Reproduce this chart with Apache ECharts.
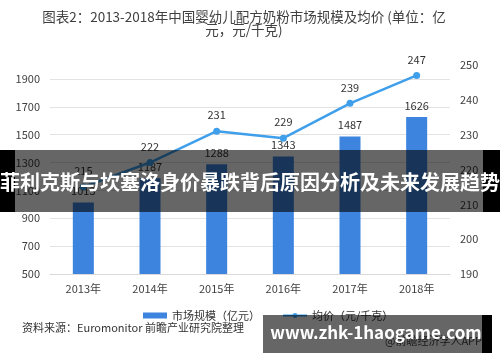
<!DOCTYPE html>
<html>
<head>
<meta charset="utf-8">
<script src="https://cdn.jsdelivr.net/npm/echarts@6/dist/echarts.min.js"></script>
<style>html,body{margin:0;padding:0;background:#fff}#c{width:500px;height:362px}</style>
</head>
<body>
<div id="c"></div>
<script>
const categories = ['2013年','2014年','2015年','2016年','2017年','2018年'];
const marketSize = [1013, 1187, 1288, 1343, 1487, 1626];
const avgPrice = [215, 222, 231, 229, 239, 247];
const leftTicks = {min: 500, max: 2000, interval: 200};
const rightTicks = {min: 190, max: 250, interval: 10};
const titleText = '图表2：2013-2018年中国婴幼儿配方奶粉市场规模及均价 (单位：亿\n元，元/千克)';
const sourceText = '资料来源：Euromonitor 前瞻产业研究院整理';
const bannerText = '菲利克斯与坎塞洛身价暴跌背后原因分析及未来发展趋势';
const siteText = 'www.zhk-1haogame.com';
const appText = '@前瞻经济学人APP';

const font = '"Noto Sans CJK SC", "Noto Sans", sans-serif';
const chart = echarts.init(document.getElementById('c'));
chart.setOption({
  animation: false,
  textStyle: {fontFamily: font},
  grid: {left: 50, right: 50, top: 65, bottom: 88},
  legend: {
    left: 138, top: 305, itemGap: 22, itemWidth: 24, itemHeight: 6,
    textStyle: {fontSize: 11, color: '#333', fontFamily: font},
    data: [
      {name: '市场规模（亿元）', icon: 'rect'},
      {name: '均价（元/千克）'}
    ]
  },
  xAxis: {
    type: 'category', data: categories,
    axisLine: {lineStyle: {color: '#d9d9d9'}},
    axisTick: {show: false},
    axisLabel: {color: '#404040', fontSize: 11, margin: 9}
  },
  yAxis: [
    {
      type: 'value', min: leftTicks.min, max: leftTicks.max, interval: leftTicks.interval,
      axisLine: {show: false}, axisTick: {show: false},
      axisLabel: {color: '#404040', fontSize: 11, margin: 10, showMaxLabel: false, formatter: v => String(v)},
      splitLine: {lineStyle: {color: '#e3e3e3'}, showMaxLine: false}
    },
    {
      type: 'value', min: rightTicks.min, max: rightTicks.max, interval: rightTicks.interval,
      axisLine: {show: false}, axisTick: {show: false},
      axisLabel: {color: '#404040', fontSize: 11, margin: 10},
      splitLine: {show: false}
    }
  ],
  series: [
    {
      name: '市场规模（亿元）', type: 'bar', data: marketSize, yAxisIndex: 0,
      barWidth: 21,
      itemStyle: {color: '#3d84df'},
      label: {show: true, position: 'top', distance: 6, color: '#333', fontSize: 11}
    },
    {
      name: '均价（元/千克）', type: 'line', data: avgPrice, yAxisIndex: 1,
      symbol: 'circle', symbolSize: 7,
      lineStyle: {color: '#3f9fea', width: 2.5},
      itemStyle: {color: '#3f9fea'},
      label: {show: true, position: 'top', distance: 7, color: '#333', fontSize: 11}
    }
  ],
  graphic: [
    {type: 'text', x: 244, y: 10, z: 10, style: {text: titleText, fill: '#404040', font: '13.5px ' + font, align: 'center', verticalAlign: 'top', lineHeight: 13}},
    {type: 'text', x: 22, y: 328, z: 10, style: {text: sourceText, fill: '#333', font: '11px ' + font, verticalAlign: 'middle'}},
    {type: 'text', x: 482, y: 341, z: 10, style: {text: appText, fill: '#444', font: '11px ' + font, align: 'right', verticalAlign: 'middle'}},
    {type: 'rect', z: 1000, shape: {x: 0, y: 150, width: 15, height: 62}, style: {fill: '#000'}},
    {type: 'rect', z: 1000, shape: {x: 483, y: 150, width: 17, height: 62}, style: {fill: '#000'}},
    {type: 'rect', z: 1000, shape: {x: 15, y: 150, width: 468, height: 62}, style: {fill: 'rgba(0,0,0,0.6)'}},
    {type: 'text', z: 1001, x: 250, y: 182, style: {text: bannerText, fill: '#fff', font: 'bold 20px ' + font, align: 'center', verticalAlign: 'middle'}},
    {type: 'rect', z: 1000, shape: {x: 263, y: 315, width: 219, height: 38}, style: {fill: 'rgba(0,0,0,0.6)'}},
    {type: 'rect', z: 1000, shape: {x: 482, y: 315, width: 10, height: 38}, style: {fill: '#000'}},
    {type: 'text', z: 1001, x: 376, y: 333, style: {text: siteText, fill: '#fff', font: 'bold 17px ' + font, align: 'center', verticalAlign: 'middle'}}
  ]
});
</script>
</body>
</html>
